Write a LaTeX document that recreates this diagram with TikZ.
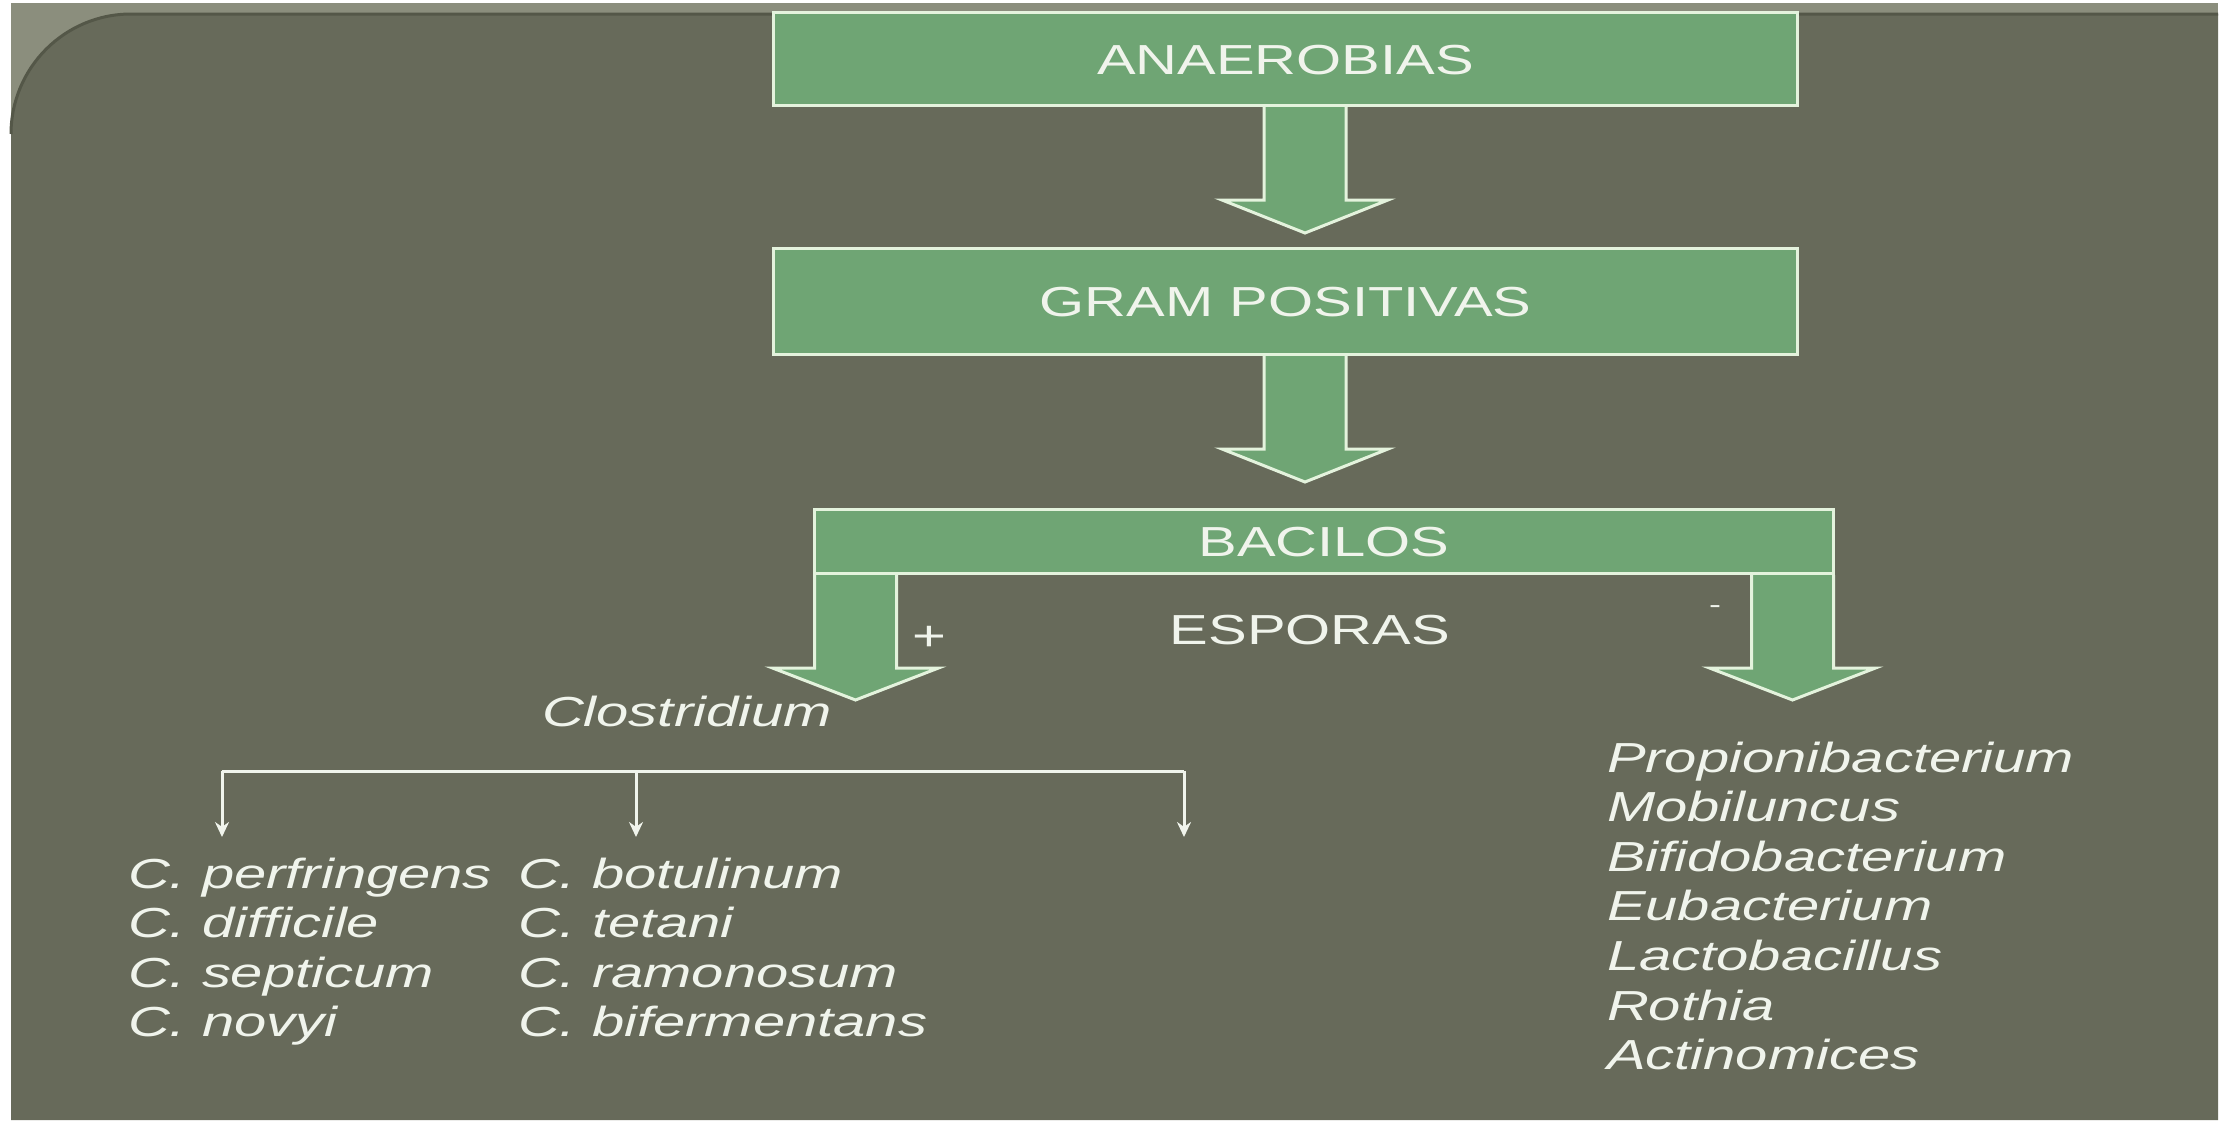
\documentclass[tikz,border=0pt]{standalone}
\usepackage{fontspec}
\setmainfont{Liberation Sans}[FakeStretch=1.38]
\usetikzlibrary{arrows.meta,calc}
\definecolor{panel}{RGB}{103,106,90}
\definecolor{band}{RGB}{139,142,125}
\definecolor{rimcol}{RGB}{84,87,72}
\definecolor{boxgreen}{RGB}{111,165,116}
\definecolor{edgecol}{RGB}{228,243,221}
\definecolor{ink}{RGB}{240,244,236}
\newcommand\blockarr[3]{%
  \fill[boxgreen] (#1) ++(-41,0) -- ++(0,#2) -- ++(-42,0) -- ++(83,#3) -- ++(83,-#3) -- ++(-42,0) -- ++(0,-#2) -- cycle;
  \draw[blockedge] (#1) ++(-41,0) -- ++(0,#2) -- ++(-42,0) -- ++(83,#3) -- ++(83,-#3) -- ++(-42,0) -- ++(0,-#2);}
\begin{document}
\begin{tikzpicture}[x=1pt,y=-1pt,
  every node/.style={font=\fontsize{42}{49.6}\selectfont, text=ink, inner sep=0pt, outer sep=0pt},
  greenbox/.style={draw=edgecol, line width=3pt, fill=boxgreen, text height=30pt, text depth=0pt},
  blockedge/.style={draw=edgecol, line width=3pt, line join=miter},
  species/.style={anchor=base west, font=\fontsize{42}{49.6}\selectfont\itshape},
  plainlabel/.style={anchor=base},
  treeline/.style={draw=ink, line width=3pt},
  treearrow/.style={treeline, -{Stealth[length=15pt,width=14pt]}}
]
% background
\fill[white] (0,0) rectangle (2236,1120);
\useasboundingbox (0,0) rectangle (2236,1120);
\fill[band] (11,3) rectangle (2218,1120);
\fill[panel] (11,1120) -- (11,134) arc[start angle=180,end angle=270,radius=120] -- (2218,14) -- (2218,1120) -- cycle;
\draw[draw=rimcol, line width=3pt] (11,134) arc[start angle=180,end angle=270,radius=120] -- (2218,14);

% boxes
\node[greenbox, minimum width=1024pt, minimum height=93pt] (anaer) at (1285.5,59) {ANAEROBIAS};
\node[greenbox, minimum width=1024pt, minimum height=106pt] (gram) at (1285.5,301.5) {GRAM POSITIVAS};
\node[greenbox, minimum width=1019pt, minimum height=64pt] (bac) at (1324,541.5) {BACILOS};

% block arrows
\coordinate (a1) at ($(anaer.south)+(19.5,1.5)$);
\coordinate (a2) at ($(gram.south)+(19.5,1.5)$);
\coordinate (a3) at ($(bac.south west)+(41,1.5)$);
\coordinate (a4) at ($(bac.south east)+(-41,1.5)$);
\blockarr{a1}{93}{33}
\blockarr{a2}{93}{33}
\blockarr{a3}{93}{32}
\blockarr{a4}{93}{32}

% labels
\node[plainlabel] (esp) at (1310,644) {ESPORAS};
\node (plus) at (929,638) {+};
\node[font=\fontsize{26}{30}\selectfont] (minus) at (1715,610) {-};
\node[species] (clos) at (542,726) {Clostridium};

% tree
\coordinate (bl) at (222,771);
\coordinate (bm) at (636,771);
\coordinate (br) at (1184,771);
\coordinate (dl) at (222,837);
\coordinate (dm) at (636,837);
\coordinate (dr) at (1184,837);
\draw[treeline] (bl) -- (br);
\draw[treearrow] (bl) -- (dl);
\draw[treearrow] (bm) -- (dm);
\draw[treearrow] (br) -- (dr);

% species columns
\node[species] (l1) at (128,888) {C. perfringens};
\node[species] (l2) at (128,937.5) {C. difficile};
\node[species] (l3) at (128,987) {C. septicum};
\node[species] (l4) at (128,1036.5) {C. novyi};
\node[species] (m1) at (518,888) {C. botulinum};
\node[species] (m2) at (518,937.5) {C. tetani};
\node[species] (m3) at (518,987) {C. ramonosum};
\node[species] (m4) at (518,1036.5) {C. bifermentans};
\node[species] (r1) at (1607,772) {Propionibacterium};
\node[species] (r2) at (1607,821.6) {Mobiluncus};
\node[species] (r3) at (1607,871.2) {Bifidobacterium};
\node[species] (r4) at (1607,920.8) {Eubacterium};
\node[species] (r5) at (1607,970.4) {Lactobacillus};
\node[species] (r6) at (1607,1020) {Rothia};
\node[species] (r7) at (1607,1069.6) {Actinomices};
\end{tikzpicture}
\end{document}
